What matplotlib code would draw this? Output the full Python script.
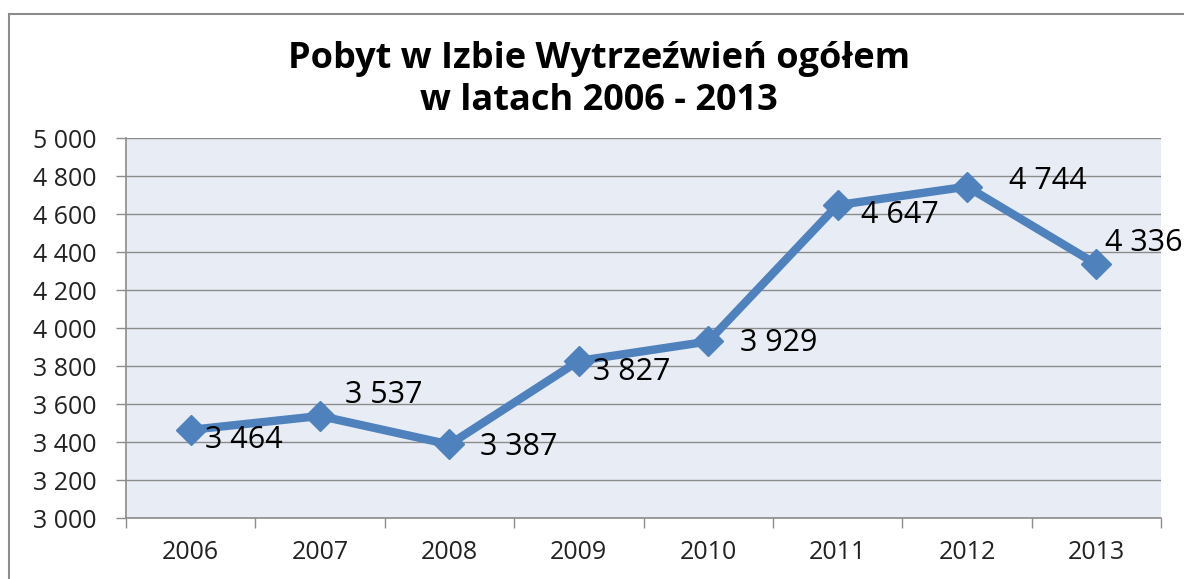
import matplotlib.pyplot as plt
from matplotlib.patches import Rectangle
from matplotlib.ticker import FuncFormatter, FixedLocator

years = ['2006', '2007', '2008', '2009', '2010', '2011', '2012', '2013']
stays = [3464, 3537, 3387, 3827, 3929, 4647, 4744, 4336]
# label offsets in points (dx, dy) relative to each point
label_offsets = [(10, -7), (18, 15), (22, -2), (10, -8), (23, -1), (17, -7), (30, 4), (6, 15)]

plt.rcParams['font.family'] = ['Open Sans', 'DejaVu Sans']

fig = plt.figure(figsize=(11.84, 5.79), dpi=100)
ax = fig.add_axes([126 / 1184, 1 - 518 / 579, 1035 / 1184, 380 / 579])

# outer chart border
fig.patches.append(Rectangle((9 / 1184, -0.05), 1.2, 1 - 14 / 579 + 0.05,
                             transform=fig.transFigure, fill=False,
                             edgecolor='#8c8c8c', linewidth=1.5))

x = list(range(len(years)))
ax.set_facecolor('#e8edf5')
ax.plot(x, stays, color='#4f81bd', linewidth=6, marker='D', markersize=15,
        solid_joinstyle='miter', zorder=3)

def fmt(v):
    return f"{int(v):,}".replace(',', ' ')

for xi, v, (dx, dy) in zip(x, stays, label_offsets):
    ax.annotate(fmt(v), (xi, v), xytext=(dx, dy), textcoords='offset points',
                ha='left', va='center', fontsize=22, color='black', zorder=4)

ax.set_xlim(-0.5, len(years) - 0.5)
ax.set_ylim(3000, 5000)
ax.set_yticks(range(3000, 5001, 200))
ax.yaxis.set_major_formatter(FuncFormatter(lambda v, p: fmt(v)))
ax.grid(axis='y', color='#8c8c8c', linewidth=1)
ax.set_axisbelow(True)

ax.set_xticks(x)
ax.set_xticklabels(years)
ax.xaxis.set_minor_locator(FixedLocator([i - 0.5 for i in range(len(years) + 1)]))
ax.tick_params(axis='x', which='major', length=0, pad=16, labelsize=18, colors='#222222')
ax.tick_params(axis='x', which='minor', length=7, color='#8c8c8c', width=1)
ax.tick_params(axis='y', length=7, color='#8c8c8c', width=1, labelsize=18, pad=14,
               labelcolor='#222222')

for s in ['top', 'right']:
    ax.spines[s].set_visible(False)
for s in ['left', 'bottom']:
    ax.spines[s].set_color('#8c8c8c')
    ax.spines[s].set_linewidth(1.2)

fig.text(0.506, 1 - 80 / 579, 'Pobyt w Izbie Wytrzeźwień ogółem\nw latach 2006 - 2013',
         ha='center', va='center', fontsize=26, fontweight='bold', linespacing=1.2)

fig.savefig('out.png', dpi=100)
